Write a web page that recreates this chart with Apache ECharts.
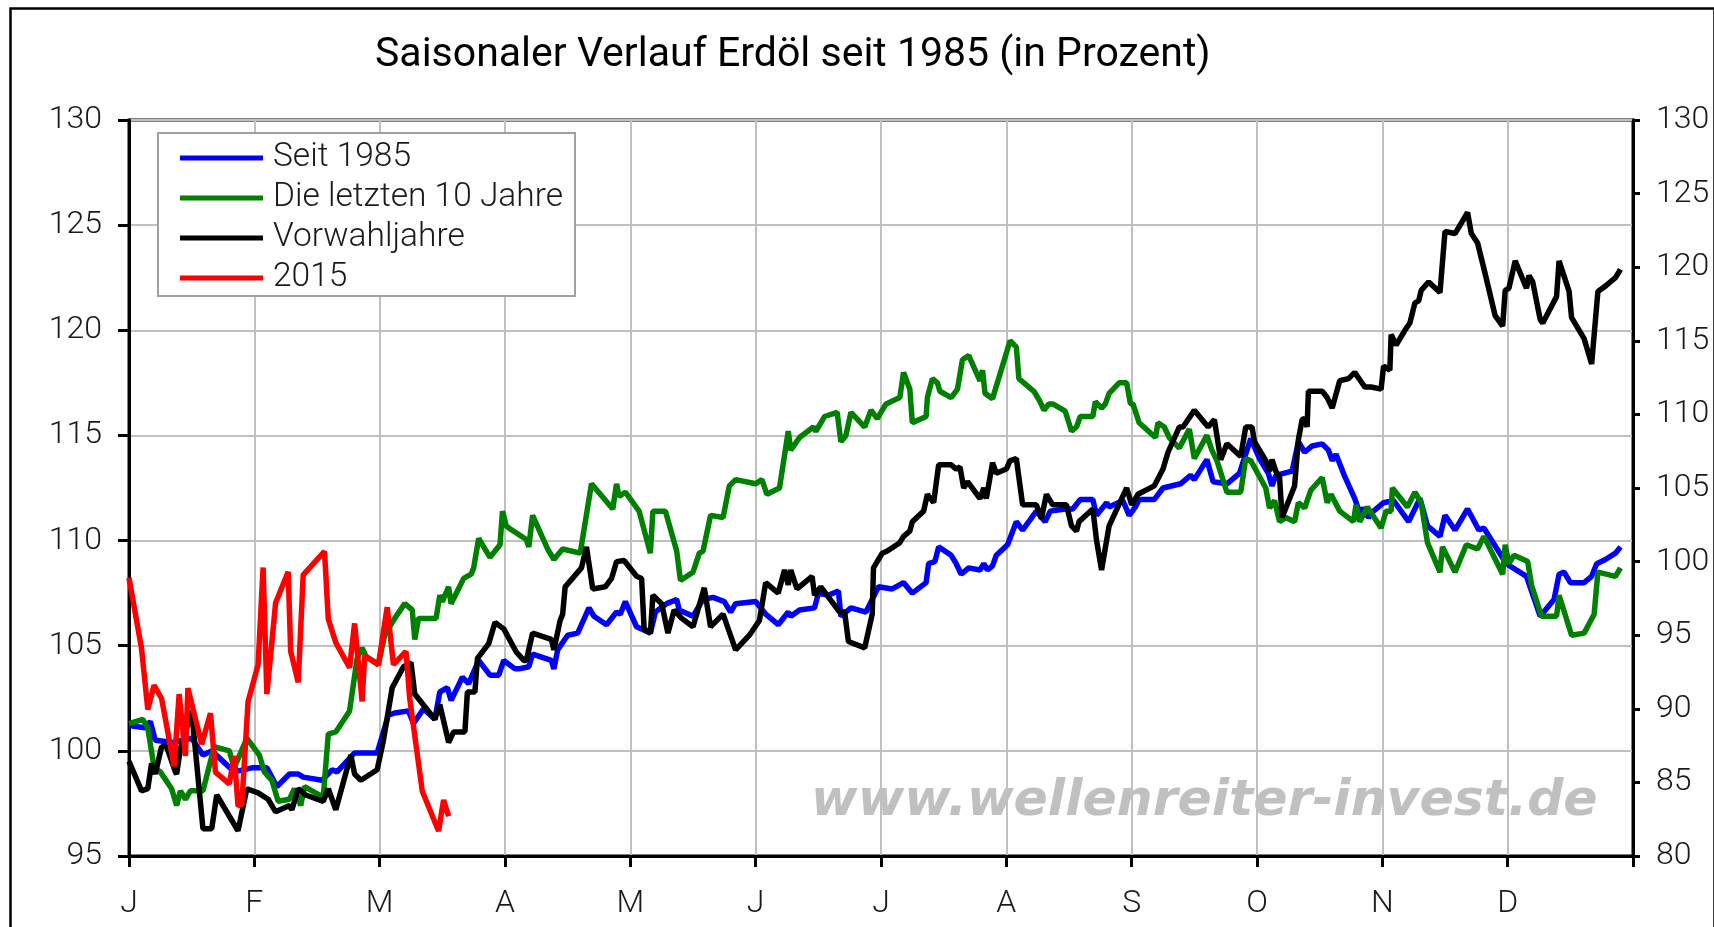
<!DOCTYPE html>
<html>
<head>
<meta charset="utf-8">
<title>Saisonaler Verlauf Erdöl</title>
<script src="https://cdn.jsdelivr.net/npm/echarts@6/dist/echarts.min.js"></script>
<style>
  html, body { margin: 0; padding: 0; background: #fff; }
  #chart { width: 1714px; height: 927px; }
</style>
</head>
<body>
<div id="chart"></div>
<script>
// month labels, x position = month index (0 = Jan ... 12 = year end)
const monthLabels = ['J', 'F', 'M', 'A', 'M', 'J', 'J', 'A', 'S', 'O', 'N', 'D', ''];

// [month, value] - left axis
const seit1985 = [
  [0,101.2],[0.13,101.1],[0.17,101.4],[0.21,100.5],[0.35,100.4],[0.5,100.6],[0.59,99.8],[0.66,100.0],
  [0.84,99.0],[0.99,99.2],[1.1,99.2],[1.18,98.3],[1.28,98.9],[1.35,98.9],[1.39,98.75],[1.54,98.6],
  [1.62,99.1],[1.66,99.0],[1.8,99.9],[1.98,99.9],[2.07,101.7],[2.12,101.8],[2.23,101.9],[2.27,101.3],
  [2.35,102.0],[2.44,101.5],[2.48,102.8],[2.54,103.0],[2.57,102.4],[2.66,103.5],[2.71,103.2],[2.79,104.3],
  [2.88,103.6],[2.95,103.6],[2.99,104.3],[3.08,103.9],[3.11,103.9],[3.19,104.0],[3.22,104.6],[3.37,104.3],
  [3.39,103.9],[3.42,104.8],[3.5,105.5],[3.58,105.6],[3.67,106.8],[3.71,106.4],[3.81,106.0],[3.89,106.6],
  [3.92,106.5],[3.96,107.1],[4.05,105.9],[4.16,105.6],[4.2,106.6],[4.29,107.0],[4.37,107.2],[4.39,106.7],
  [4.5,106.4],[4.58,107.2],[4.66,107.3],[4.75,107.1],[4.8,106.6],[4.84,107.0],[5.0,107.1],[5.08,106.5],
  [5.18,106.0],[5.26,106.6],[5.28,106.4],[5.35,106.7],[5.47,106.8],[5.5,107.5],[5.58,107.4],[5.66,107.6],
  [5.68,106.4],[5.76,106.8],[5.88,106.6],[5.98,107.8],[6.09,107.7],[6.18,108.0],[6.25,107.5],[6.36,108.0],
  [6.38,108.9],[6.43,109.0],[6.46,109.7],[6.56,109.3],[6.6,108.9],[6.64,108.4],[6.7,108.7],[6.79,108.6],
  [6.82,108.9],[6.85,108.6],[6.89,108.8],[6.92,109.3],[7.01,109.8],[7.08,110.9],[7.13,110.5],[7.24,111.4],
  [7.31,110.9],[7.35,111.4],[7.47,111.5],[7.53,111.5],[7.59,111.95],[7.69,111.95],[7.72,111.2],[7.8,111.8],
  [7.82,111.6],[7.93,111.9],[7.98,111.2],[8.03,111.6],[8.06,111.95],[8.18,111.95],[8.25,112.5],[8.39,112.7],
  [8.47,113.1],[8.5,112.9],[8.6,113.85],[8.65,112.8],[8.76,112.7],[8.86,113.2],[8.95,114.85],[9.02,113.9],
  [9.09,113.2],[9.12,112.6],[9.15,113.1],[9.28,113.3],[9.33,114.7],[9.38,114.2],[9.44,114.5],[9.52,114.6],
  [9.57,114.3],[9.6,113.8],[9.63,114.1],[9.7,113.05],[9.78,112.0],[9.82,111.3],[9.84,111.55],[9.89,111.1],
  [9.93,111.4],[10.01,111.8],[10.09,111.9],[10.21,110.9],[10.3,112.0],[10.36,110.7],[10.46,110.2],[10.5,111.2],
  [10.58,110.5],[10.68,111.5],[10.77,110.5],[10.81,110.6],[10.99,108.9],[11.15,108.3],[11.26,106.4],[11.37,107.2],
  [11.41,108.4],[11.45,108.5],[11.5,108.0],[11.61,108.0],[11.67,108.3],[11.71,108.9],[11.78,109.1],[11.86,109.4],
  [11.9,109.7]
];

const letzte10 = [
  [0,101.3],[0.11,101.5],[0.15,101.1],[0.2,99.2],[0.25,99.0],[0.34,98.2],[0.38,97.4],[0.41,98.1],
  [0.45,97.7],[0.49,98.1],[0.59,98.1],[0.68,100.2],[0.8,100.0],[0.84,99.2],[0.94,100.6],[1.04,99.8],
  [1.08,99.0],[1.14,98.6],[1.19,97.6],[1.28,97.7],[1.32,98.2],[1.37,97.4],[1.4,98.3],[1.55,97.8],
  [1.59,100.8],[1.65,100.9],[1.76,101.9],[1.82,104.4],[1.86,104.9],[1.89,104.5],[1.99,104.1],[2.04,105.5],
  [2.12,106.3],[2.2,107.0],[2.26,106.7],[2.28,105.3],[2.31,106.3],[2.45,106.3],[2.48,107.4],[2.5,107.1],
  [2.55,107.8],[2.57,107.0],[2.67,108.2],[2.73,108.4],[2.75,108.7],[2.79,110.1],[2.88,109.2],[2.96,109.8],
  [2.98,111.4],[3.01,110.7],[3.03,110.6],[3.17,110.05],[3.19,109.7],[3.22,111.2],[3.34,109.6],[3.39,109.1],
  [3.46,109.6],[3.6,109.4],[3.69,112.7],[3.86,111.5],[3.89,112.7],[3.91,112.1],[3.96,112.3],[4.07,111.4],
  [4.16,109.4],[4.18,111.4],[4.28,111.4],[4.37,109.5],[4.4,108.1],[4.5,108.5],[4.55,109.4],[4.58,109.5],
  [4.64,111.2],[4.74,111.1],[4.79,112.6],[4.84,112.9],[5.0,112.7],[5.05,112.9],[5.09,112.2],[5.19,112.5],
  [5.26,115.2],[5.28,114.3],[5.35,114.9],[5.46,115.4],[5.48,115.2],[5.55,115.9],[5.65,116.1],[5.68,114.7],
  [5.72,115.0],[5.76,116.1],[5.87,115.4],[5.92,116.2],[5.97,115.8],[6.04,116.5],[6.15,116.8],[6.18,118.0],
  [6.23,117.2],[6.25,115.6],[6.36,115.9],[6.37,116.8],[6.41,117.7],[6.45,117.5],[6.47,117.1],[6.56,116.8],
  [6.61,117.2],[6.65,118.6],[6.7,118.8],[6.79,117.6],[6.81,118.1],[6.83,117.0],[6.89,116.75],[7.03,119.5],
  [7.08,119.2],[7.1,117.7],[7.22,117.1],[7.27,116.6],[7.3,116.2],[7.34,116.5],[7.37,116.5],[7.47,116.15],
  [7.52,115.2],[7.56,115.4],[7.59,115.9],[7.69,115.9],[7.71,116.6],[7.76,116.3],[7.79,116.5],[7.82,117.0],
  [7.9,117.5],[7.96,117.5],[7.99,116.5],[8.01,116.5],[8.06,115.6],[8.19,114.9],[8.21,115.6],[8.26,115.4],
  [8.3,114.9],[8.38,114.4],[8.46,115.3],[8.5,113.9],[8.6,115.0],[8.64,114.3],[8.68,113.8],[8.76,112.3],
  [8.87,112.3],[8.91,113.9],[8.95,113.8],[9.07,112.5],[9.1,111.55],[9.14,111.9],[9.18,110.9],[9.23,111.1],
  [9.3,110.9],[9.33,111.8],[9.38,111.55],[9.43,112.4],[9.52,113.0],[9.56,111.8],[9.59,112.2],[9.66,111.4],
  [9.77,110.9],[9.79,111.7],[9.82,110.9],[9.88,111.6],[9.99,110.6],[10.03,111.4],[10.07,111.4],[10.08,112.5],
  [10.2,111.6],[10.26,112.3],[10.31,111.8],[10.36,109.9],[10.46,108.5],[10.48,109.7],[10.58,108.5],[10.67,109.8],
  [10.76,109.6],[10.81,110.2],[10.96,108.4],[10.98,109.8],[11.01,108.9],[11.05,109.3],[11.16,109.0],[11.19,107.9],
  [11.27,106.4],[11.39,106.4],[11.41,107.4],[11.51,105.5],[11.61,105.6],[11.69,106.5],[11.72,108.5],[11.86,108.3],
  [11.9,108.7]
];

const vorwahljahre = [
  [0,99.5],[0.1,98.1],[0.15,98.2],[0.18,99.4],[0.21,98.9],[0.26,100.2],[0.3,100.2],[0.37,99.0],
  [0.38,98.9],[0.41,100.1],[0.5,101.9],[0.59,96.3],[0.66,96.3],[0.7,97.9],[0.87,96.2],[0.94,98.2],
  [1.03,98.0],[1.11,97.7],[1.17,97.1],[1.28,97.4],[1.3,97.2],[1.35,98.2],[1.41,97.9],[1.55,97.6],
  [1.59,98.2],[1.65,97.2],[1.77,99.8],[1.8,98.9],[1.85,98.6],[1.98,99.1],[2.03,100.5],[2.1,103.0],
  [2.19,104.0],[2.25,104.2],[2.28,102.7],[2.44,101.5],[2.48,102.2],[2.55,100.4],[2.59,100.9],[2.68,100.9],
  [2.7,102.8],[2.76,102.8],[2.78,104.4],[2.87,105.1],[2.92,106.1],[2.99,105.8],[3.09,104.7],[3.15,104.3],
  [3.17,104.3],[3.22,105.6],[3.37,105.3],[3.39,104.8],[3.44,106.2],[3.46,106.5],[3.48,107.8],[3.61,108.7],
  [3.65,109.7],[3.7,107.7],[3.8,107.8],[3.85,108.2],[3.89,109.0],[3.95,109.05],[4.05,108.3],[4.09,108.2],
  [4.11,105.8],[4.16,105.6],[4.18,107.4],[4.25,107.0],[4.3,105.6],[4.35,106.7],[4.41,106.3],[4.5,105.9],
  [4.59,107.75],[4.64,105.9],[4.74,106.5],[4.84,104.8],[4.95,105.5],[5.03,106.2],[5.08,108.0],[5.18,107.5],
  [5.23,108.6],[5.26,107.9],[5.28,108.6],[5.33,107.7],[5.45,108.3],[5.47,107.4],[5.52,107.8],[5.67,106.6],
  [5.71,106.6],[5.74,105.2],[5.75,105.2],[5.87,104.9],[5.93,106.5],[5.94,108.7],[6.01,109.4],[6.05,109.5],
  [6.15,109.9],[6.18,110.2],[6.23,110.45],[6.25,110.9],[6.34,111.4],[6.37,112.2],[6.42,111.8],[6.46,113.6],
  [6.56,113.6],[6.6,113.4],[6.63,113.5],[6.66,112.5],[6.69,112.8],[6.79,112.0],[6.82,112.5],[6.84,112.0],
  [6.89,113.7],[6.92,113.2],[7.0,113.4],[7.03,113.8],[7.08,113.9],[7.13,111.7],[7.24,111.7],[7.28,111.05],
  [7.32,112.2],[7.37,111.7],[7.48,111.7],[7.52,110.7],[7.56,110.45],[7.58,110.9],[7.69,111.5],[7.72,110.0],
  [7.76,108.6],[7.82,110.7],[7.96,112.5],[8.0,111.7],[8.05,112.2],[8.18,112.6],[8.25,113.4],[8.29,114.2],
  [8.38,115.4],[8.41,115.4],[8.5,116.2],[8.61,115.4],[8.66,115.75],[8.71,113.85],[8.76,114.6],[8.87,114.0],
  [8.91,115.4],[8.96,115.4],[8.98,114.7],[9.07,113.8],[9.1,113.3],[9.12,113.85],[9.15,113.3],[9.18,113.0],
  [9.2,111.1],[9.3,112.6],[9.33,114.8],[9.36,115.75],[9.38,115.8],[9.4,115.4],[9.41,117.1],[9.52,117.1],
  [9.56,116.8],[9.6,116.3],[9.66,117.6],[9.73,117.7],[9.78,118.0],[9.82,117.65],[9.86,117.3],[9.91,117.3],
  [9.99,117.2],[10.01,118.3],[10.06,118.1],[10.07,119.8],[10.11,119.3],[10.18,120.0],[10.22,120.35],[10.26,121.3],
  [10.29,121.4],[10.31,121.9],[10.37,122.3],[10.46,121.8],[10.5,124.7],[10.58,124.6],[10.68,125.6],[10.71,124.6],
  [10.76,124.15],[10.82,122.7],[10.9,120.7],[10.96,120.2],[10.98,121.9],[11.01,122.0],[11.06,123.3],[11.15,122.0],
  [11.17,122.6],[11.2,122.3],[11.26,120.5],[11.28,120.35],[11.39,121.6],[11.41,123.3],[11.49,121.85],[11.51,120.6],
  [11.61,119.6],[11.67,118.4],[11.72,121.85],[11.78,122.1],[11.86,122.5],[11.9,122.9]
];

// 2015 - right axis
const jahr2015 = [
  [0,98.9],[0.1,94.1],[0.15,89.95],[0.2,91.6],[0.26,90.7],[0.36,86.1],[0.4,91.0],[0.45,86.8],
  [0.47,91.4],[0.58,87.6],[0.65,89.7],[0.69,85.7],[0.8,84.9],[0.84,86.8],[0.87,83.4],[0.9,83.5],
  [0.95,90.5],[1.03,93.0],[1.07,99.6],[1.1,91.0],[1.17,97.2],[1.27,99.3],[1.29,93.9],[1.35,91.8],
  [1.39,99.1],[1.56,100.7],[1.59,96.1],[1.65,94.5],[1.76,92.8],[1.8,95.8],[1.86,90.5],[1.88,93.6],
  [1.99,93.0],[2.06,96.9],[2.11,93.0],[2.21,93.9],[2.24,90.7],[2.34,84.4],[2.47,81.7],[2.51,83.8],
  [2.55,82.7]
];

const font = 'Roboto, "Liberation Sans", Arial, sans-serif';
const lineW = 5.5;

const myChart = echarts.init(document.getElementById('chart'));

const option = {
    backgroundColor: '#fff',
    animation: false,
    title: {
        text: 'Saisonaler Verlauf Erdöl seit 1985 (in Prozent)',
        left: 375,
        top: 35,
        padding: 0,
        textStyle: { fontFamily: font, fontSize: 41, fontWeight: 'normal', color: '#000' }
    },
    legend: {
        orient: 'vertical',
        left: 158,
        top: 133,
        padding: [8, 12, 1, 22],
        itemGap: 6,
        itemWidth: 83,
        itemHeight: 5,
        icon: 'rect',
        backgroundColor: '#fff',
        borderColor: '#a0a0a0',
        borderWidth: 2,
        borderRadius: 0,
        selectedMode: false,
        textStyle: { fontFamily: font, fontSize: 33.5, fontWeight: 300, color: '#1a1a1a', lineHeight: 34, padding: [0, 0, 0, 5] },
        data: ['Seit 1985', 'Die letzten 10 Jahre', 'Vorwahljahre', '2015']
    },
    grid: {
        left: 129,
        right: 81,
        top: 120,
        bottom: 71,
        show: true,
        borderColor: '#000',
        borderWidth: 3
    },
    xAxis: {
        type: 'value',
        min: 0,
        max: 12,
        interval: 1,
        axisLine: { lineStyle: { color: '#000', width: 3 } },
        axisTick: { show: true, length: 11, lineStyle: { color: '#000', width: 3 } },
        axisLabel: {
            margin: 32,
            fontFamily: font, fontSize: 32, fontWeight: 300, color: '#1a1a1a',
            formatter: function (value) {
                return monthLabels[Math.round(value)] || '';
            }
        },
        splitLine: { show: true, lineStyle: { color: '#c0c0c0', width: 2 } }
    },
    yAxis: [
        {
            type: 'value',
            min: 95,
            max: 130,
            interval: 5,
            axisLine: { show: true, lineStyle: { color: '#000', width: 3 } },
            axisTick: { show: true, length: 11, lineStyle: { color: '#000', width: 3 } },
            axisLabel: { margin: 27, fontFamily: font, fontSize: 32, fontWeight: 300, color: '#1a1a1a' },
            splitLine: { show: true, lineStyle: { color: '#c0c0c0', width: 2 } }
        },
        {
            type: 'value',
            position: 'right',
            min: 80,
            max: 130,
            interval: 5,
            axisLine: { show: true, lineStyle: { color: '#000', width: 3 } },
            axisTick: { show: true, length: 7, lineStyle: { color: '#000', width: 3 } },
            axisLabel: { margin: 23, fontFamily: font, fontSize: 32, fontWeight: 300, color: '#1a1a1a' },
            splitLine: { show: false }
        }
    ],
    graphic: [
        {
            type: 'rect',
            left: 8,
            top: 6,
            shape: { width: 1704, height: 1000 },
            style: { fill: 'none', stroke: '#000', lineWidth: 2.5 },
            silent: true,
            z: 100
        },
        {
            type: 'text',
            left: 811,
            top: 776,
            style: {
                text: 'www.wellenreiter-invest.de',
                fill: '#c0c0c0',
                font: 'italic bold 50.5px "DejaVu Sans", sans-serif'
            },
            silent: true,
            z: 1
        }
    ],
    series: [
        { name: 'Seit 1985', type: 'line', data: seit1985, showSymbol: false, symbol: 'none', color: '#0000ff', lineStyle: { width: lineW }, z: 3 },
        { name: 'Die letzten 10 Jahre', type: 'line', data: letzte10, showSymbol: false, symbol: 'none', color: '#008000', lineStyle: { width: lineW }, z: 4 },
        { name: 'Vorwahljahre', type: 'line', data: vorwahljahre, showSymbol: false, symbol: 'none', color: '#000000', lineStyle: { width: lineW }, z: 5 },
        { name: '2015', type: 'line', yAxisIndex: 1, data: jahr2015, showSymbol: false, symbol: 'none', color: '#ff0000', lineStyle: { width: lineW }, z: 6 }
    ]
};

myChart.setOption(option);
window.addEventListener('resize', myChart.resize);
</script>
</body>
</html>
